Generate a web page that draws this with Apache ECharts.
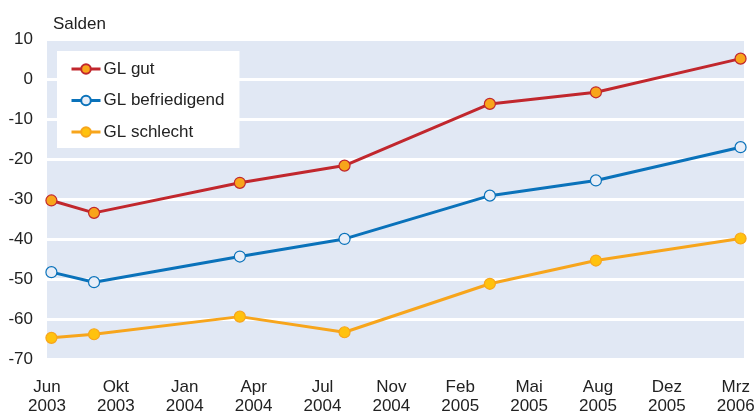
<!DOCTYPE html>
<html>
<head>
<meta charset="utf-8">
<script src="https://cdn.jsdelivr.net/npm/echarts@6/dist/echarts.min.js"></script>
<style>
  html, body { margin: 0; padding: 0; background: #fff; }
  #chart { width: 755px; height: 412px; }
</style>
</head>
<body>
<div id="chart"></div>
<script>
// tick labels (evenly spaced along the axis)
var tickLabels = ['Jun\n2003', 'Okt\n2003', 'Jan\n2004', 'Apr\n2004', 'Jul\n2004', 'Nov\n2004',
                  'Feb\n2005', 'Mai\n2005', 'Aug\n2005', 'Dez\n2005', 'Mrz\n2006'];
// survey dates, in tick-label units
var xPos = [0.064, 0.683, 2.8, 4.32, 6.43, 7.97, 10.07];
var glGut = [-30.3, -33.4, -25.9, -21.6, -6.2, -3.3, 5.1];
var glBefr = [-48.2, -50.7, -44.3, -39.9, -29.1, -25.3, -17.0];
var glSchlecht = [-64.6, -63.7, -59.3, -63.2, -51.1, -45.3, -39.8];

function pairs(ys) {
    return xPos.map(function (x, i) { return [x, ys[i]]; });
}

var font = 'Liberation Sans, Arial, sans-serif';
var chart = echarts.init(document.getElementById('chart'));

function line(name, data, lineColor, fill) {
    return {
        name: name,
        type: 'line',
        data: pairs(data),
        symbol: 'circle',
        symbolSize: 11,
        showAllSymbol: true,
        lineStyle: { color: lineColor, width: 3 },
        itemStyle: { color: fill, borderColor: lineColor, borderWidth: 1.2 },
        emphasis: { disabled: true }
    };
}

var option = {
    animation: false,
    textStyle: { fontFamily: font },
    title: {
        text: 'Salden',
        left: 48, top: 11,
        textStyle: { fontFamily: font, fontSize: 17, fontWeight: 'normal', color: '#222' }
    },
    legend: {
        orient: 'vertical',
        left: 57, top: 51,
        backgroundColor: '#fff',
        padding: [8, 15, 6, 13],
        itemWidth: 29, itemHeight: 12, itemGap: 11.5,
        lineStyle: { width: 3 },
        textStyle: { fontFamily: font, fontSize: 17, color: '#222', lineHeight: 20, padding: [0, 0, 0, -2] },
        data: ['GL gut', 'GL befriedigend', 'GL schlecht']
    },
    grid: {
        left: 47, right: 11, top: 39, bottom: 52.5,
        outerBoundsMode: 'none',
        show: true, backgroundColor: '#E1E8F4', borderWidth: 0
    },
    xAxis: {
        type: 'value',
        min: 0, max: 10.12, interval: 1,
        axisLine: { show: false }, axisTick: { show: false },
        splitLine: { show: false },
        axisLabel: {
            fontFamily: font, fontSize: 17, color: '#222', lineHeight: 19, margin: 18,
            showMaxLabel: false,
            formatter: function (v) {
                var i = Math.round(v);
                return Math.abs(v - i) < 1e-6 ? tickLabels[i] : '';
            }
        }
    },
    yAxis: {
        type: 'value',
        min: -70, max: 10, interval: 10,
        axisLine: { show: false }, axisTick: { show: false },
        splitLine: { lineStyle: { color: '#fff', width: 3 } },
        axisLabel: { fontFamily: font, fontSize: 17, color: '#222', margin: 14 }
    },
    series: [
        line('GL gut', glGut, '#C1272D', '#F8A51B'),
        line('GL befriedigend', glBefr, '#0A72BA', '#E8EEF8'),
        line('GL schlecht', glSchlecht, '#F7A51C', '#FFC20E')
    ]
};
chart.setOption(option);
</script>
</body>
</html>
